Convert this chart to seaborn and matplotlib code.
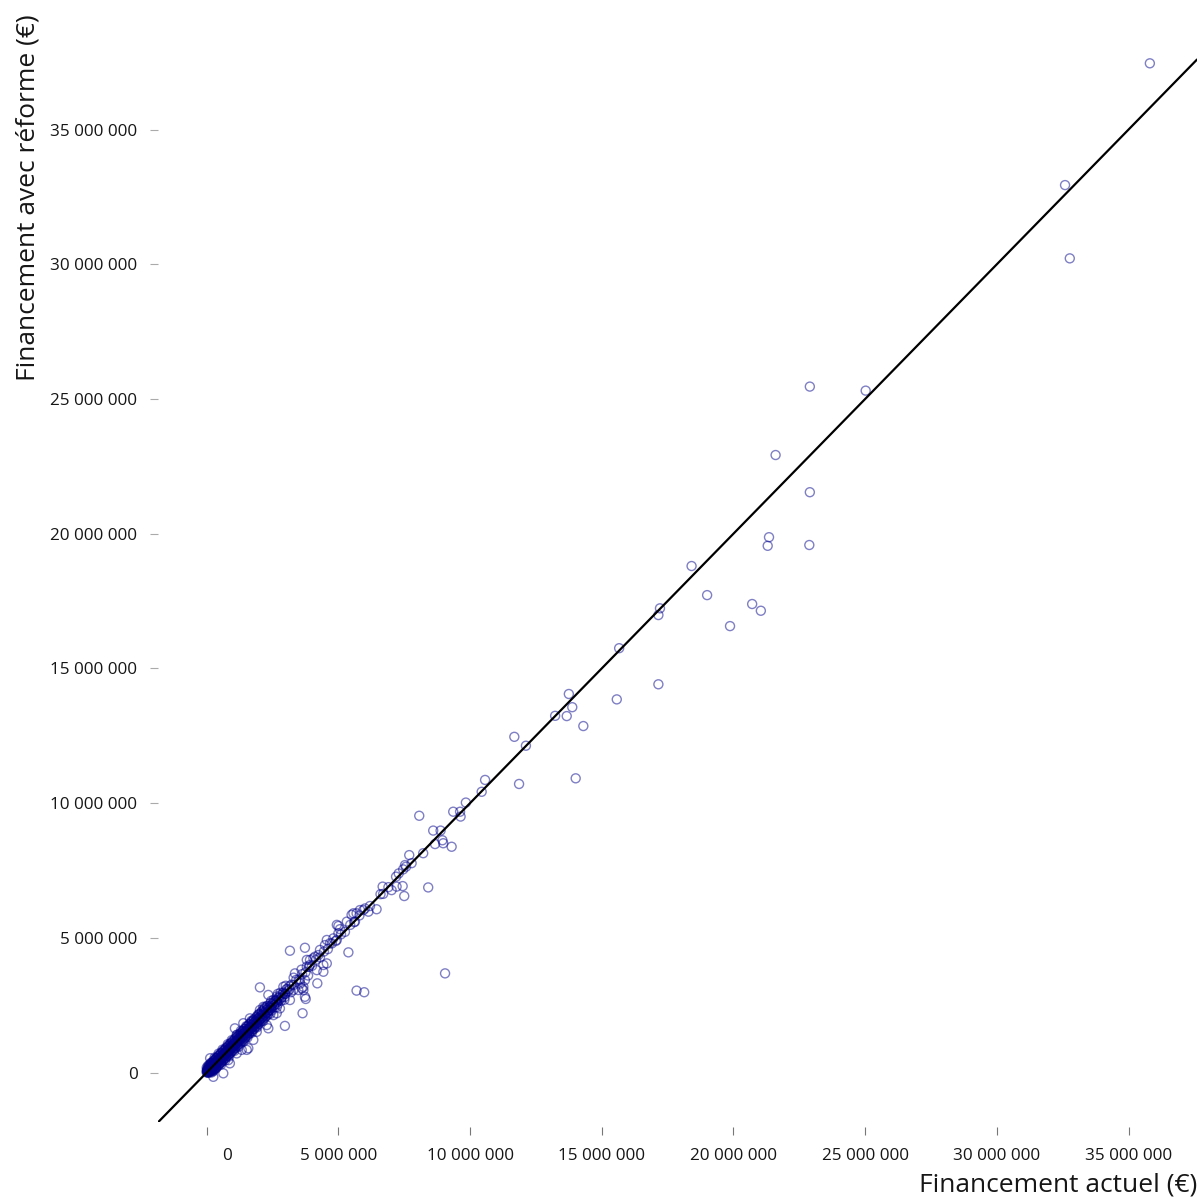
import matplotlib
matplotlib.use("Agg")
import matplotlib.pyplot as plt
import matplotlib.transforms as mtransforms
import seaborn as sns
import pandas as pd

# ---- data (values in millions of euros: (financement actuel, financement avec réforme)) ----
outlier_points_m = [
    (35.81, 37.46), (32.59, 32.94), (32.77, 30.22), (22.90, 25.46), (25.02, 25.31),
    (21.60, 22.92), (22.90, 21.54), (21.35, 19.87), (21.30, 19.55), (22.88, 19.58),
    (18.41, 18.80), (19.00, 17.72), (20.71, 17.39), (21.04, 17.14), (19.87, 16.57),
    (17.21, 17.23), (17.15, 16.98), (15.66, 15.75), (15.57, 13.85), (17.15, 14.41),
    (13.75, 14.05), (13.88, 13.56), (13.23, 13.24), (13.67, 13.23), (14.30, 12.86),
    (11.68, 12.46), (12.12, 12.13), (14.01, 10.92), (11.86, 10.71), (10.57, 10.86),
    (10.44, 10.42), (9.84, 10.02), (9.36, 9.68), (9.62, 9.68), (9.64, 9.50),
    (8.07, 9.53), (8.60, 8.98), (8.88, 8.98), (8.67, 8.48), (8.98, 8.51),
    (9.30, 8.38), (8.95, 8.62), (7.69, 8.07), (8.22, 8.14), (7.53, 7.70),
    (7.78, 7.77), (8.41, 6.87), (7.50, 6.55), (7.44, 6.92), (7.19, 7.27),
    (7.29, 7.39), (7.46, 7.54), (7.57, 7.64), (6.68, 6.90), (6.70, 6.63),
    (7.02, 6.77), (7.21, 6.90), (6.45, 6.06), (6.14, 5.97), (5.95, 6.03),
    (6.01, 6.09), (5.82, 6.03), (5.57, 5.91), (5.50, 5.85), (5.69, 5.91),
    (5.63, 5.60), (5.32, 5.60), (5.00, 5.44), (5.06, 5.32), (4.94, 5.48),
    (5.00, 5.17), (5.38, 4.46), (3.73, 4.63), (3.16, 4.52), (9.05, 3.68),
    (5.69, 3.04), (5.98, 2.98), (4.56, 4.92), (4.68, 4.80), (4.81, 4.98),
    (4.94, 4.92), (4.49, 4.73), (4.30, 4.55), (4.11, 4.30), (4.24, 4.36),
    (4.05, 4.24), (3.92, 4.18), (4.43, 3.99), (4.56, 4.05), (4.18, 3.80),
    (4.43, 3.74), (3.80, 3.93), (3.80, 4.18), (3.92, 3.99), (4.20, 3.31),
    (3.67, 3.06), (3.73, 2.81), (3.76, 2.73), (3.64, 2.20), (2.97, 1.73),
    (2.02, 3.16), (3.54, 3.43), (3.61, 3.13), (3.35, 3.68), (3.29, 3.06),
    (2.91, 3.18), (2.66, 2.69), (2.40, 2.32), (2.53, 2.13), (2.02, 2.32),
    (1.90, 1.83), (2.28, 1.76), (2.34, 2.88), (2.34, 1.64), (1.77, 1.21),
    (1.58, 0.90), (1.07, 1.64), (0.13, 0.53), (0.63, -0.03), (0.25, -0.16),
    (0.19, 0.09), (1.14, 0.71), (0.88, 0.34), (0.82, 0.46), (1.33, 0.84),
    (1.52, 0.84), (2.66, 2.20), (2.78, 2.38), (3.16, 2.69), (3.48, 3.06),
    (3.67, 3.18), (3.73, 3.43), (1.39, 1.83), (1.64, 2.01), (1.14, 1.39),
    (2.15, 2.44), (2.28, 2.20), (1.90, 1.51),
]

near_line_points_m = [
    (0.00, 0.00), (0.02, 0.04), (0.04, 0.01), (0.06, 0.08), (0.08, 0.05),
    (0.10, 0.12), (0.12, 0.09), (0.14, 0.16), (0.16, 0.13), (0.18, 0.21),
    (0.20, 0.17), (0.22, 0.25), (0.24, 0.21), (0.26, 0.29), (0.28, 0.25),
    (0.30, 0.33), (0.32, 0.29), (0.34, 0.37), (0.36, 0.33), (0.38, 0.41),
    (0.40, 0.37), (0.43, 0.46), (0.46, 0.42), (0.49, 0.52), (0.52, 0.48),
    (0.55, 0.58), (0.58, 0.54), (0.61, 0.64), (0.64, 0.60), (0.67, 0.70),
    (0.70, 0.66), (0.73, 0.76), (0.76, 0.72), (0.79, 0.82), (0.82, 0.78),
    (0.85, 0.88), (0.88, 0.84), (0.91, 0.94), (0.94, 0.90), (0.97, 1.00),
    (1.00, 0.96), (1.04, 1.08), (1.08, 1.03), (1.12, 1.16), (1.16, 1.11),
    (1.20, 1.24), (1.24, 1.19), (1.28, 1.32), (1.32, 1.27), (1.36, 1.40),
    (1.40, 1.35), (1.44, 1.48), (1.48, 1.43), (1.52, 1.56), (1.56, 1.51),
    (1.60, 1.64), (1.64, 1.58), (1.68, 1.72), (1.72, 1.67), (1.76, 1.80),
    (1.80, 1.74), (1.85, 1.89), (1.90, 1.84), (1.95, 1.99), (2.00, 1.94),
    (2.05, 2.09), (2.10, 2.04), (2.15, 2.19), (2.20, 2.14), (2.26, 2.30),
    (2.32, 2.26), (2.38, 2.42), (2.44, 2.38), (2.50, 2.54), (2.56, 2.50),
    (2.62, 2.66), (2.68, 2.62), (2.75, 2.79), (2.82, 2.76), (2.90, 2.94),
    (2.98, 2.92), (3.06, 3.10), (3.14, 3.08), (3.22, 3.26), (3.30, 3.25),
    (3.40, 3.44), (3.50, 3.46), (3.62, 3.65), (3.75, 3.72), (3.88, 3.92),
    (4.00, 3.96), (4.15, 4.18), (4.30, 4.27), (4.45, 4.49), (4.60, 4.58),
    (4.75, 4.79), (4.90, 4.88), (5.10, 5.13), (5.25, 5.22), (5.45, 5.48),
    (5.60, 5.58), (5.80, 5.83), (6.20, 6.18), (6.60, 6.62), (6.90, 6.88),
]

dense_points_m = [
    (0.01, 0.10), (0.03, 0.15), (0.07, 0.20), (0.11, 0.26), (0.15, 0.30),
    (0.19, 0.34), (0.23, 0.38), (0.27, 0.42), (0.31, 0.47), (0.35, 0.51),
    (0.39, 0.55), (0.44, 0.60), (0.50, 0.66), (0.56, 0.72), (0.62, 0.78),
    (0.68, 0.84), (0.74, 0.90), (0.80, 0.96), (0.86, 1.02), (0.92, 1.08),
    (0.98, 1.14), (1.06, 1.22), (1.14, 1.30), (1.22, 1.38), (1.30, 1.46),
    (1.38, 1.54), (1.46, 1.62), (1.54, 1.70), (1.62, 1.78), (1.70, 1.86),
    (1.78, 1.94), (1.88, 2.04), (1.98, 2.14), (2.08, 2.24), (2.18, 2.34),
    (2.30, 2.46), (2.42, 2.58), (2.54, 2.70), (2.66, 2.82), (2.80, 2.96),
    (0.10, 0.00), (0.15, 0.03), (0.20, 0.06), (0.26, 0.11), (0.30, 0.15),
    (0.34, 0.19), (0.38, 0.23), (0.42, 0.27), (0.47, 0.31), (0.51, 0.35),
    (0.55, 0.39), (0.60, 0.44), (0.66, 0.50), (0.72, 0.56), (0.78, 0.62),
    (0.84, 0.68), (0.90, 0.74), (0.96, 0.80), (1.02, 0.86), (1.08, 0.92),
    (1.14, 0.98), (1.22, 1.06), (1.30, 1.14), (1.38, 1.22), (1.46, 1.30),
    (1.54, 1.38), (1.62, 1.46), (1.70, 1.54), (1.78, 1.62), (1.86, 1.70),
    (1.94, 1.78), (2.04, 1.88), (2.14, 1.98), (2.24, 2.08), (2.34, 2.18),
    (2.46, 2.30), (2.58, 2.42), (2.70, 2.54), (2.82, 2.66), (2.96, 2.80),
]

cluster_upper_m = [
    (0.03, 0.09), (0.09, 0.16), (0.16, 0.22), (0.23, 0.29), (0.29, 0.36),
    (0.36, 0.42), (0.43, 0.49), (0.49, 0.56), (0.56, 0.62), (0.63, 0.69),
    (0.69, 0.76), (0.76, 0.82), (0.83, 0.89), (0.89, 0.96), (0.96, 1.02),
    (1.03, 1.09), (1.09, 1.16), (1.16, 1.22), (1.23, 1.29), (1.29, 1.36),
    (1.36, 1.42), (1.43, 1.49), (1.49, 1.56), (1.56, 1.62), (1.63, 1.69),
    (1.69, 1.76), (1.76, 1.82), (1.83, 1.89), (1.89, 1.96), (1.96, 2.02),
    (2.03, 2.09), (2.10, 2.17), (2.18, 2.24), (2.26, 2.32), (2.34, 2.41),
    (2.42, 2.48), (2.51, 2.57), (2.60, 2.66), (2.70, 2.76), (2.80, 2.87),
    (2.91, 2.97), (3.02, 3.09), (3.14, 3.20),
    (0.00, 0.18), (0.09, 0.27), (0.18, 0.36), (0.27, 0.45), (0.36, 0.54),
    (0.45, 0.63), (0.54, 0.72), (0.63, 0.81), (0.72, 0.90), (0.81, 0.99),
    (0.90, 1.08), (0.99, 1.17), (1.08, 1.26), (1.17, 1.35), (1.26, 1.44),
    (1.35, 1.53), (1.44, 1.62), (1.53, 1.71), (1.62, 1.80), (1.71, 1.89),
    (1.80, 1.98), (1.90, 2.08), (2.00, 2.18), (2.10, 2.28), (2.20, 2.38),
    (2.30, 2.48),
]

cluster_lower_m = [
    (0.06, 0.00), (0.13, 0.07), (0.19, 0.13), (0.26, 0.20), (0.33, 0.27),
    (0.39, 0.33), (0.46, 0.40), (0.53, 0.47), (0.59, 0.53), (0.66, 0.60),
    (0.73, 0.67), (0.79, 0.73), (0.86, 0.80), (0.93, 0.87), (0.99, 0.93),
    (1.06, 1.00), (1.13, 1.07), (1.19, 1.13), (1.26, 1.20), (1.33, 1.27),
    (1.39, 1.33), (1.46, 1.40), (1.53, 1.47), (1.59, 1.53), (1.66, 1.60),
    (1.73, 1.67), (1.79, 1.73), (1.86, 1.80), (1.93, 1.87), (1.99, 1.93),
    (2.07, 2.01), (2.14, 2.08), (2.22, 2.16), (2.30, 2.24), (2.38, 2.32),
    (2.47, 2.41), (2.56, 2.50), (2.65, 2.59), (2.75, 2.69), (2.86, 2.80),
    (2.97, 2.91), (3.08, 3.02),
    (0.18, 0.00), (0.27, 0.09), (0.36, 0.18), (0.45, 0.27), (0.54, 0.36),
    (0.63, 0.45), (0.72, 0.54), (0.81, 0.63), (0.90, 0.72), (0.99, 0.81),
    (1.08, 0.90), (1.17, 0.99), (1.26, 1.08), (1.35, 1.17), (1.44, 1.26),
    (1.53, 1.35), (1.62, 1.44), (1.71, 1.53), (1.80, 1.62), (1.90, 1.72),
    (2.00, 1.82), (2.10, 1.92), (2.20, 2.02), (2.30, 2.12),
    (0.00, 0.05), (0.05, 0.00), (0.02, 0.02), (0.07, 0.12), (0.12, 0.05),
    (0.04, 0.07), (0.09, 0.09), (0.14, 0.20), (0.20, 0.12), (0.11, 0.16),
    (0.16, 0.10),
]

band_points_m = [
    (0.05, 0.25), (0.25, 0.05), (0.15, 0.35), (0.35, 0.15), (0.30, 0.55),
    (0.55, 0.30), (0.45, 0.70), (0.70, 0.45), (0.60, 0.85), (0.85, 0.60),
    (0.80, 1.05), (1.05, 0.80), (0.95, 1.20), (1.20, 0.95), (1.15, 1.40),
    (1.40, 1.15), (1.30, 1.55), (1.55, 1.30), (1.50, 1.72), (1.72, 1.48),
    (1.70, 1.92), (1.92, 1.68), (1.95, 2.15), (2.15, 1.92), (2.20, 2.42),
    (2.42, 2.18), (2.45, 2.66), (2.66, 2.42), (2.70, 2.92), (2.95, 2.70),
    (3.00, 3.22), (3.20, 2.98), (3.30, 3.52), (3.55, 3.30), (3.60, 3.82),
    (3.85, 3.60),
]

tick_values = [0, 5e6, 10e6, 15e6, 20e6, 25e6, 30e6, 35e6]
tick_labels = ["0", "5 000 000", "10 000 000", "15 000 000", "20 000 000",
               "25 000 000", "30 000 000", "35 000 000"]
x_label = "Financement actuel (€)"
y_label = "Financement avec réforme (€)"

all_points = (outlier_points_m + near_line_points_m + dense_points_m
              + cluster_upper_m + cluster_lower_m + band_points_m)
df = pd.DataFrame({
    "actuel": [p[0] * 1e6 for p in all_points],
    "reforme": [p[1] * 1e6 for p in all_points],
})

# ---- style ----
sns.set_style("white")
plt.rcParams["font.family"] = ["Open Sans", "DejaVu Sans"]

fig = plt.figure(figsize=(12.02, 12.0), dpi=100)
ax = fig.add_axes([158 / 1202, 1 - 1122 / 1200, (1197 - 158) / 1202, 1122 / 1200])

ax.axline((0, 0), slope=1, color="black", linewidth=1.6, zorder=3)

sns.scatterplot(data=df, x="actuel", y="reforme", ax=ax, s=42,
                facecolors="none", edgecolor="#00008b", linewidth=1.0,
                alpha=0.5, zorder=2)
for coll in ax.collections:
    coll.set_facecolor("none")

ax.set_xlim(-1.849e6, 37.60e6)
ax.set_ylim(-1.837e6, 39.81e6)

for side in ["top", "right", "left", "bottom"]:
    ax.spines[side].set_visible(False)
ax.spines["bottom"].set_position(("outward", 3.6))

ax.set_xticks(tick_values)
ax.set_xticklabels(tick_labels)
ax.set_yticks(tick_values)
ax.set_yticklabels(tick_labels)

ax.tick_params(axis="x", direction="out", length=5.8, width=0.8, color="#777777",
               labelsize=12.3, pad=9.5, labelcolor="#161616", bottom=True)
ax.tick_params(axis="y", direction="out", length=5.8, width=0.8, color="#aaaaaa",
               labelsize=12.3, pad=9, labelcolor="#161616", left=True)

# the "0" label on x sits a little to the right of its tick in the reference
lbl0 = ax.get_xticklabels()[0]
lbl0.set_transform(lbl0.get_transform() + mtransforms.ScaledTranslation(20 / 100, 0, fig.dpi_scale_trans))

ax.set_xlabel(x_label, fontsize=19, color="#161616")
ax.xaxis.label.set_horizontalalignment("right")
ax.xaxis.label.set_verticalalignment("baseline")
ax.xaxis.set_label_coords(1.0, -(1192 - 1122) / 1122)

ax.set_ylabel(y_label, y=1 - 198 / 1122, fontsize=19, color="#161616", labelpad=7)

fig.savefig("out.png", dpi=100, facecolor="white")
